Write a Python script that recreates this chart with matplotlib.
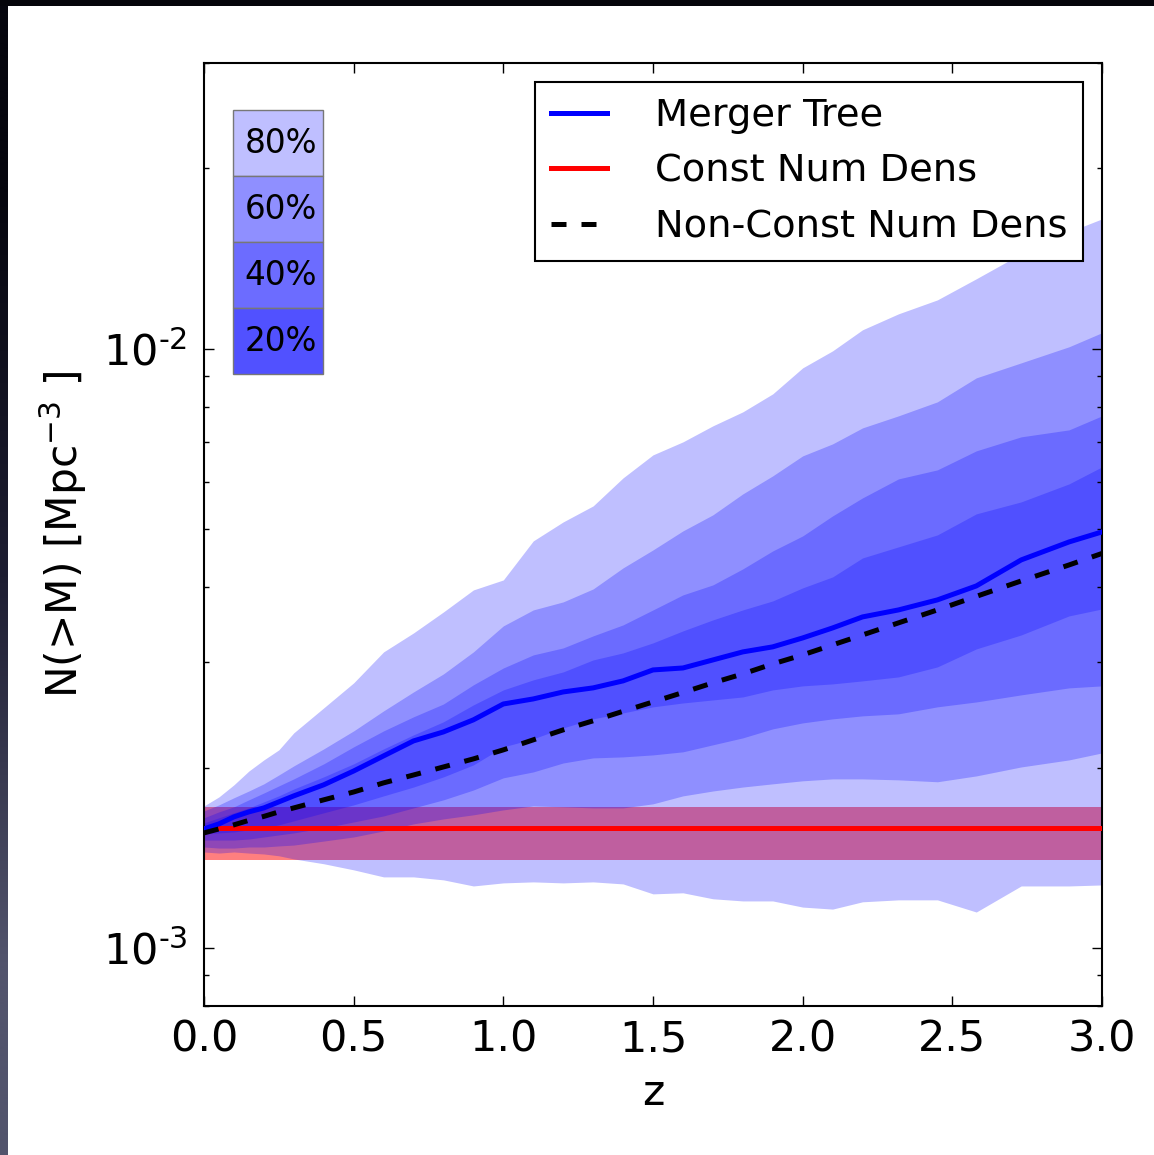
import numpy as np
import matplotlib
matplotlib.use('Agg')
import matplotlib.pyplot as plt
from matplotlib.patches import Rectangle
from matplotlib.ticker import FixedLocator, FixedFormatter, LogLocator, NullFormatter

# redshift grid
z = [0.0, 0.05, 0.1, 0.15, 0.2, 0.25, 0.3, 0.4, 0.5, 0.6, 0.7, 0.8, 0.9, 1.0,
     1.1, 1.2, 1.3, 1.4, 1.5, 1.6, 1.7, 1.8, 1.9, 2.0, 2.1, 2.2, 2.32, 2.45,
     2.58, 2.73, 2.89, 3.0]

# number densities, units of 1e-3 Mpc^-3
median = [1.580, 1.611, 1.655, 1.687, 1.713, 1.753, 1.794, 1.872, 1.974, 2.092,
          2.216, 2.294, 2.403, 2.554, 2.604, 2.675, 2.717, 2.791, 2.911, 2.933,
          3.025, 3.120, 3.181, 3.292, 3.421, 3.569, 3.666, 3.810, 4.020, 4.443,
          4.761, 4.948]
nonconst = [1.556, 1.580, 1.605, 1.633, 1.658, 1.687, 1.713, 1.767, 1.821, 1.886,
            1.944, 2.005, 2.068, 2.141, 2.225, 2.312, 2.394, 2.483, 2.574, 2.669,
            2.770, 2.867, 2.979, 3.084, 3.205, 3.330, 3.488, 3.666, 3.862, 4.098,
            4.358, 4.555]

p80_hi = [1.726, 1.787, 1.872, 1.974, 2.060, 2.141, 2.286, 2.516, 2.770, 3.120,
          3.356, 3.638, 3.959, 4.114, 4.780, 5.142, 5.468, 6.090, 6.653, 6.994,
          7.438, 7.849, 8.411, 9.295, 9.923, 10.76, 11.44, 12.07, 13.09, 14.41,
          15.68, 16.48]
p80_lo = [1.446, 1.440, 1.446, 1.440, 1.435, 1.425, 1.408, 1.382, 1.350, 1.314,
          1.314, 1.299, 1.269, 1.284, 1.289, 1.284, 1.289, 1.279, 1.231, 1.236,
          1.208, 1.198, 1.198, 1.170, 1.161, 1.194, 1.203, 1.203, 1.148, 1.269,
          1.269, 1.274]
p60_hi = [1.693, 1.733, 1.781, 1.828, 1.879, 1.944, 2.013, 2.149, 2.303, 2.487,
          2.675, 2.867, 3.120, 3.448, 3.666, 3.781, 3.974, 4.309, 4.617, 4.967,
          5.283, 5.726, 6.137, 6.627, 6.940, 7.380, 7.729, 8.156, 8.944, 9.475,
          10.08, 10.64]
p60_lo = [1.474, 1.468, 1.468, 1.474, 1.474, 1.480, 1.485, 1.508, 1.532, 1.568,
          1.611, 1.642, 1.668, 1.700, 1.726, 1.720, 1.713, 1.713, 1.740, 1.794,
          1.828, 1.856, 1.879, 1.901, 1.915, 1.915, 1.908, 1.894, 1.937, 2.005,
          2.060, 2.116]
p40_hi = [1.649, 1.687, 1.720, 1.767, 1.814, 1.864, 1.915, 2.029, 2.166, 2.303,
          2.431, 2.554, 2.749, 2.933, 3.084, 3.168, 3.318, 3.461, 3.666, 3.884,
          4.036, 4.292, 4.599, 4.872, 5.262, 5.639, 6.066, 6.280, 6.756, 7.130,
          7.324, 7.729]
p40_lo = [1.514, 1.514, 1.514, 1.520, 1.532, 1.544, 1.556, 1.586, 1.623, 1.661,
          1.713, 1.767, 1.835, 1.923, 1.967, 2.036, 2.076, 2.084, 2.100, 2.125,
          2.183, 2.242, 2.321, 2.375, 2.412, 2.440, 2.459, 2.526, 2.574, 2.645,
          2.717, 2.738]
p20_hi = [1.617, 1.649, 1.681, 1.713, 1.753, 1.794, 1.842, 1.930, 2.029, 2.149,
          2.268, 2.385, 2.545, 2.696, 2.802, 2.889, 3.025, 3.108, 3.230, 3.382,
          3.528, 3.666, 3.795, 3.990, 4.162, 4.477, 4.671, 4.891, 5.303, 5.553,
          5.951, 6.353]
p20_lo = [1.550, 1.556, 1.562, 1.574, 1.586, 1.605, 1.630, 1.681, 1.733, 1.794,
          1.856, 1.930, 2.021, 2.166, 2.234, 2.330, 2.412, 2.468, 2.526, 2.564,
          2.594, 2.624, 2.696, 2.738, 2.759, 2.791, 2.834, 2.945, 3.156, 3.330,
          3.583, 3.680]

# constant number density and its scatter
const_nd = 1.586
const_lo = 1.403
const_hi = 1.720

unit = 1e-3
bands = [(p80_lo, p80_hi), (p60_lo, p60_hi), (p40_lo, p40_hi), (p20_lo, p20_hi)]
band_labels = ['80%', '60%', '40%', '20%']
xticks = [0.0, 0.5, 1.0, 1.5, 2.0, 2.5, 3.0]
yticks = [1e-3, 1e-2]
ytick_labels = [r'$10^{\text{-}3}$', r'$10^{\text{-}2}$']

W, H = 1154, 1155
fig = plt.figure(figsize=(W / 100, H / 100), dpi=100)

# dark screenshot frame on top / left
bg = fig.add_axes([0, 0, 1, 1])
grad = np.array([[[6, 6, 14]], [[30, 30, 50]], [[82, 84, 108]]]) / 255
bg.imshow(grad, aspect='auto', extent=[0, 1, 0, 1], interpolation='bilinear')
bg.add_patch(Rectangle((8 / W, 0), 1, 1 - 6 / H, facecolor='white', lw=0))
bg.add_patch(Rectangle((0, 1 - 6 / H), 1, 6 / H, facecolor='#05050b', lw=0))
bg.set_xlim(0, 1)
bg.set_ylim(0, 1)
bg.axis('off')

ax = fig.add_axes([204 / W, 1 - 1006 / H, 898 / W, 943 / H])
zz = np.array(z)

ax.fill_between(zz, const_lo * unit, const_hi * unit, color='red', alpha=0.5, lw=0)
for lo, hi in bands:
    ax.fill_between(zz, np.array(lo) * unit, np.array(hi) * unit,
                    color='blue', alpha=0.25, lw=0)

ax.plot([zz[0], zz[-1]], [const_nd * unit] * 2, color='red', lw=3.6,
        label='Const Num Dens', zorder=3)
ax.plot(zz, np.array(median) * unit, color='blue', lw=3.6,
        label='Merger Tree', zorder=4)
ax.plot(zz, np.array(nonconst) * unit, color='black', lw=3.6,
        ls=(0, (3, 3)), label='Non-Const Num Dens', zorder=5)

ax.set_yscale('log')
ax.set_xlim(0, 3)
ax.set_ylim(8e-4, 3e-2)

ax.xaxis.set_major_locator(FixedLocator(xticks))
ax.yaxis.set_major_locator(FixedLocator(yticks))
ax.yaxis.set_major_formatter(FixedFormatter(ytick_labels))
ax.yaxis.set_minor_locator(LogLocator(base=10, subs=np.arange(2, 10)))
ax.yaxis.set_minor_formatter(NullFormatter())
ax.tick_params(which='both', direction='in', top=True, right=True, width=1.0)
ax.tick_params(which='major', length=7, labelsize=31)
ax.tick_params(which='minor', length=3.5)
ax.tick_params(axis='x', pad=9)
ax.tick_params(axis='y', pad=12)
for s in ax.spines.values():
    s.set_linewidth(1.5)

ax.set_xlabel('z', fontsize=30.5, labelpad=8)
ax.set_ylabel(r'N(>M) [Mpc$^{-3}$ ]', fontsize=30.5, labelpad=10)

# percentile key boxes
box_x, box_w, box_h = 0.0323, 0.1002, 0.070
for i, lab in enumerate(band_labels):
    a = 1 - 0.75 ** (i + 1)
    y0 = 0.880 - i * box_h
    ax.add_patch(Rectangle((box_x, y0), box_w, box_h, transform=ax.transAxes,
                           facecolor=(1 - a, 1 - a, 1), edgecolor='#777777',
                           lw=1, zorder=6))
    ax.text(box_x + box_w / 2 + 0.003, y0 + box_h / 2, lab, transform=ax.transAxes,
            ha='center', va='center', fontsize=23.5, zorder=7)

h, l = ax.get_legend_handles_labels()
order = [1, 0, 2]
leg = ax.legend([h[i] for i in order], [l[i] for i in order], loc='upper right',
                bbox_to_anchor=(0.979, 0.980), borderaxespad=0, fontsize=27.6,
                fancybox=False, framealpha=1, edgecolor='black',
                handlelength=1.45, handletextpad=1.25, labelspacing=0.51,
                borderpad=0.42)
leg.get_frame().set_linewidth(1.5)

fig.savefig('out.png', dpi=100)
